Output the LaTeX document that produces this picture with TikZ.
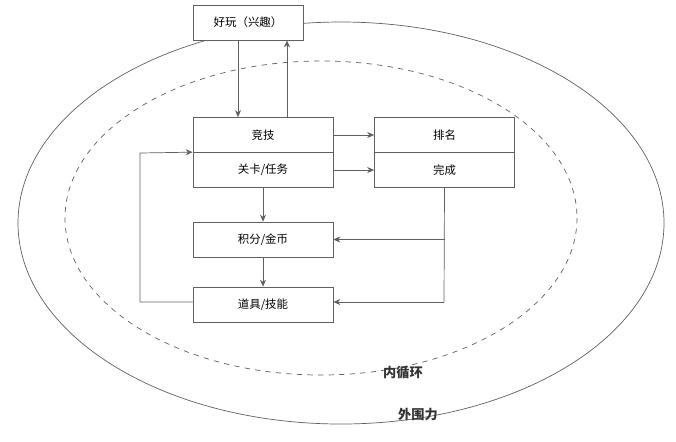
\documentclass[tikz,border=0pt]{standalone}
\usepackage{fontspec}
\setmainfont{Noto Sans CJK SC}
\usetikzlibrary{arrows.meta}
\tikzset{
  blk/.style={draw=gray!75!black,fill=white,minimum width=2.8cm,minimum height=0.7cm,inner sep=0pt,font=\fontsize{6.5}{8}\selectfont},
  arr/.style={draw=gray!75!black,-{Stealth[length=1.4mm,width=1.2mm]}},
  lbl/.style={font=\fontsize{7.5}{9}\selectfont\bfseries,text=black!80}
}
\begin{document}
\begin{tikzpicture}[x=0.02cm,y=-0.02cm]
  \useasboundingbox (0,0) rectangle (676,441);
  % loops
  \draw[gray!75!black] (341,223) ellipse [x radius=323,y radius=201];
  \draw[gray!75!black,dashed] (321,218) ellipse [x radius=256,y radius=157];
  % boxes
  \node[blk,minimum width=2.2cm] (fun)  at (248,22.5)  {好玩（兴趣）};
  \node[blk] (comp)  at (263,135)   {竞技};
  \node[blk] (task)  at (263,170) {关卡/任务};
  \node[blk] (rank)  at (444.5,135)   {排名};
  \node[blk] (done)  at (444.5,170) {完成};
  \node[blk] (coin)  at (263,239.5) {积分/金币};
  \node[blk] (tool)  at (263,304.5) {道具/技能};
  \coordinate (corner) at (444,302);
  \coordinate (back)   at (140,153);
  % connectors
  \draw[arr] (fun.south -| 238,0) -- (comp.north -| 238,0);
  \draw[arr] (comp.north -| 287,0) -- (fun.south -| 287,0);
  \draw[arr] (comp) -- (rank);
  \draw[arr] (task) -- (done);
  \draw[arr] (task) -- (coin);
  \draw[arr] (coin) -- (tool);
  \draw[gray!75!black] (done.south) -- (corner);
  \draw[arr] (corner) -- (tool.east |- corner);
  \draw[arr] (done.south |- coin) -- (coin.east);
  \draw[arr] (tool.west |- corner) -| (back) -- (task.north west);
  % labels
  \node[lbl] (inner) at (403,373) {内循环};
  \node[lbl] (outer) at (418,415) {外围力};
\end{tikzpicture}
\end{document}
